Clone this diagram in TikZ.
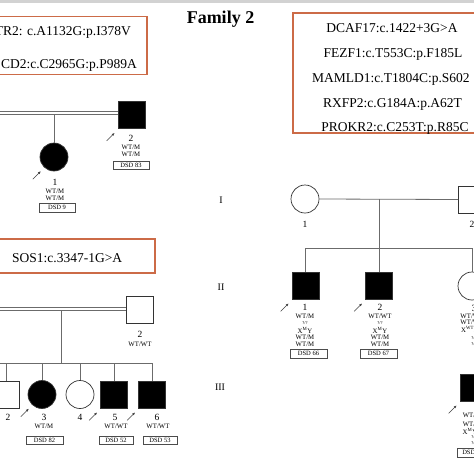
\documentclass[tikz,border=0pt]{standalone}
\usepackage{fontspec}
\setmainfont{Liberation Serif}
\usetikzlibrary{calc,positioning,arrows.meta}
\definecolor{boxred}{rgb}{0.80,0.42,0.28}
\definecolor{pedgray}{rgb}{0.42,0.42,0.42}

\begin{document}
\begin{tikzpicture}[x=1pt,y=-1pt,
    male/.style={rectangle,draw=black!80,line width=0.7pt,minimum size=27pt,inner sep=0pt},
    female/.style={circle,draw=black!80,line width=0.7pt,minimum size=28pt,inner sep=0pt},
    aff/.style={fill=black},
    kin/.style={draw=pedgray,line width=0.8pt},
    wed/.style={draw=pedgray,double=white,double distance=2.4pt,line width=0.7pt},
    parrow/.style={-{Latex[length=3pt,width=2.4pt]},line width=0.5pt,draw=black!75},
    num/.style={inner sep=0pt,font=\fontsize{9.5}{9.5}\selectfont},
    geno/.style={inner sep=0pt,font=\fontsize{6.8}{6.8}\selectfont},
    tinyq/.style={inner sep=0pt,font=\fontsize{4.5}{4.5}\selectfont},
    dsdbox/.style={draw=black!70,line width=0.5pt,minimum height=8.5pt,inner sep=0pt,font=\fontsize{6.5}{6.5}\selectfont},
    mutbox/.style={draw=boxred,line width=1.2pt},
    mut/.style={inner sep=0pt,font=\fontsize{13.5}{13.5}\selectfont},
    genlab/.style={inner sep=0pt,font=\fontsize{10}{10}\selectfont}]
    \useasboundingbox (0,0) rectangle (474,474);
    \clip (0,0) rectangle (474,474);
    \fill[white] (0,0) rectangle (474,474);
    \fill[gray!35] (0,0) rectangle (474,3);

    \node[inner sep=0pt,anchor=base,font=\fontsize{18}{18}\selectfont\bfseries] (title) at (220.5,23) {Family 2};

    \draw[mutbox] (-10,16.5) rectangle (147,74.5);
    \node[mut,anchor=base east] (m1) at (131,35) {TR2: c.A1132G:p.I378V};
    \node[mut,anchor=base east] (m2) at (137,68) {CD2:c.C2965G:p.P989A};
    \draw[mutbox] (293,13) rectangle (490,133);
    \node[mut,anchor=base] (m3) at (392,32) {DCAF17:c.1422+3G>A};
    \node[mut,anchor=base] (m4) at (393,57) {FEZF1:c.T553C:p.F185L};
    \node[mut,anchor=base west] (m5) at (312,82) {MAMLD1:c.T1804C:p.S602};
    \node[mut,anchor=base] (m6) at (392.5,107) {RXFP2:c.G184A:p.A62T};
    \node[mut,anchor=base] (m7) at (395,131) {PROKR2:c.C253T:p.R85C};
    \draw[mutbox] (-10,239) rectangle (155,273);
    \node[mut,anchor=base west] (m8) at (12,262) {SOS1:c.3347-1G>A};

    \node[genlab] (g1) at (221,200) {I};
    \node[genlab] (g2) at (221,287) {II};
    \node[genlab] (g3) at (220,387) {III};

    % family on the top left
    \node[male,aff] (t2) at (131.5,115) {};
    \node[female,aff] (t1) at (54,157) {};
    \coordinate (t0) at (-5,113);
    \coordinate (tm) at (54,114);
    \draw[wed] (t0) -- (t2.west |- t0);
    \draw[kin] (tm) -- (t1.north);
    \node[num] (t1n) at (55,182) {1};
    \node[geno] (t1a) at (55,191) {WT/M};
    \node[geno] (t1b) at (55,198) {WT/M};
    \node[dsdbox,minimum width=36pt] (t1d) at (57,207.5) {DSD 9};
    \node[num] (t2n) at (131,138) {2};
    \node[geno] (t2a) at (131,147) {WT/M};
    \node[geno] (t2b) at (131,154) {WT/M};
    \node[dsdbox,minimum width=36pt] (t2d) at (131,165) {DSD 83};

    % family on the bottom left
    \node[male] (b2) at (139.5,310) {};
    \coordinate (b0) at (-5,309);
    \coordinate (bm) at (61,310);
    \coordinate (bs) at (61,363);
    \coordinate (bl) at (-5,363);
    \draw[wed] (b0) -- (b2.west |- b0);
    \draw[kin] (bm) -- (bs);
    \node[male] (b2c) at (6,394.5) {};
    \node[female,aff] (b3) at (42,394.5) {};
    \node[female] (b4) at (80,394.5) {};
    \node[male,aff] (b5) at (114,394.5) {};
    \node[male,aff] (b6) at (152,394.5) {};
    \draw[kin] (bl) -- (b6 |- bs);
    \foreach \c in {b2c,b3,b4,b5,b6}
        \draw[kin] (\c |- bs) -- (\c.north);
    \node[num] (b2n) at (140,334) {2};
    \node[geno] (b2a) at (140,344) {WT/WT};
    \node[num] (b2cn) at (8,417) {2};
    \node[num] (b3n) at (44,417) {3};
    \node[geno] (b3a) at (44,426) {WT/M};
    \node[dsdbox,minimum width=37pt] (b3d) at (44.5,440) {DSD 82};
    \node[num] (b4n) at (80,417) {4};
    \node[num] (b5n) at (115,417) {5};
    \node[geno] (b5a) at (116,426) {WT/WT};
    \node[dsdbox,minimum width=34pt] (b5d) at (116,440) {DSD 52};
    \node[num] (b6n) at (157,417) {6};
    \node[geno] (b6a) at (158,426) {WT/WT};
    \node[dsdbox,minimum width=34pt] (b6d) at (160,440) {DSD 53};

    % family on the right
    \node[female] (r1) at (305,199) {};
    \node[male] (r2) at (472,199.5) {};
    \coordinate (rm) at (379,199);
    \coordinate (rs) at (379,248);
    \draw[kin] (r1.east) -- (r2.west);
    \node[male,aff] (rc1) at (305.5,285.5) {};
    \node[male,aff] (rc2) at (379,285.5) {};
    \node[female] (rc3) at (472,286) {};
    \node[male,aff] (r3) at (473.5,387.5) {};
    \draw[kin] (rm) -- (rc2.north);
    \draw[kin] (rc1 |- rs) -- (rc3 |- rs);
    \draw[kin] (rc1 |- rs) -- (rc1.north);
    \draw[kin] (rc3 |- rs) -- (rc3.north);
    \node[num] (r1n) at (305,224) {1};
    \node[num] (r2n) at (472,224) {2};
    \node[num] (rc1n) at (305,307) {1};
    \node[geno] (rc1a) at (305,316) {WT/M};
    \node[tinyq] (rc1b) at (305,323) {?/?};
    \node[geno] (rc1c) at (305,330) {X\textsuperscript{M}Y};
    \node[geno] (rc1d) at (305,337) {WT/M};
    \node[geno] (rc1e) at (305,344) {WT/M};
    \node[dsdbox,minimum width=37pt] (rc1f) at (308.5,353.5) {DSD 66};
    \node[num] (rc2n) at (380,307) {2};
    \node[geno] (rc2a) at (380,316) {WT/WT};
    \node[tinyq] (rc2b) at (380,323) {?/?};
    \node[geno] (rc2c) at (380,330) {X\textsuperscript{M}Y};
    \node[geno] (rc2d) at (380,337) {WT/M};
    \node[geno] (rc2e) at (380,344) {WT/M};
    \node[dsdbox,minimum width=37pt] (rc2f) at (378.5,353.5) {DSD 67};
    \node[num] (rc3n) at (474,308) {3};
    \node[geno] (rc3a) at (472,316) {WT/WT};
    \node[geno] (rc3b) at (472,322.5) {WT/WT};
    \node[geno] (rc3c) at (470,329) {X\textsuperscript{WT}X};
    \node[tinyq] (rc3d) at (474,338) {?/?};
    \node[tinyq] (rc3e) at (474,344) {?/?};
    \node[geno] (r3a) at (472,415) {WT/M};
    \node[geno] (r3b) at (472,424) {WT/M};
    \node[geno] (r3c) at (470,431) {X\textsuperscript{M}Y};
    \node[tinyq] (r3d) at (474,437) {?/?};
    \node[tinyq] (r3e) at (474,443) {?/?};
    \node[dsdbox,anchor=west,inner xsep=5pt] (r3f) at (457,452.5) {DSD};

    \foreach \p in {t1,t2,b3,b5,b6,rc1,rc2,r3}
        \draw[parrow] ($(\p.south west)+(-11,12)$) -- ($(\p.south west)+(-3,4)$);
\end{tikzpicture}
\end{document}
